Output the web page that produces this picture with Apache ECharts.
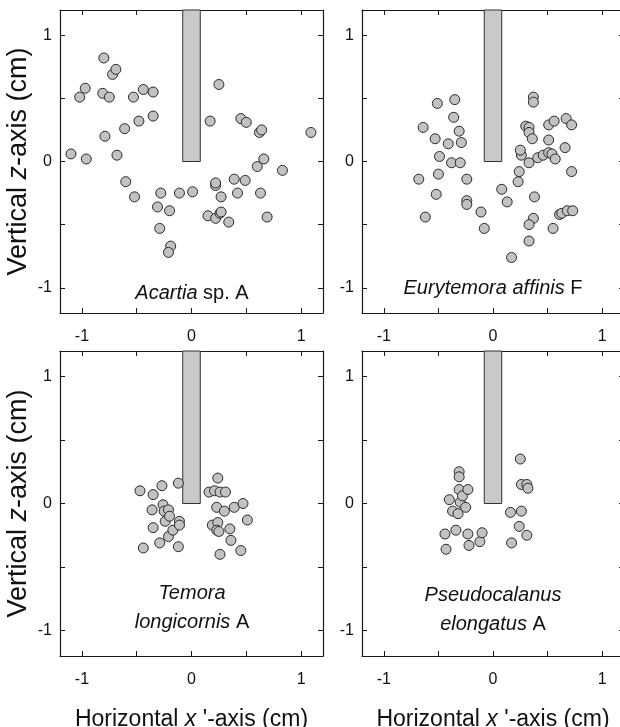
<!DOCTYPE html>
<html>
<head>
<meta charset="utf-8">
<script src="https://cdn.jsdelivr.net/npm/echarts@6/dist/echarts.min.js"></script>
<style>
html,body{margin:0;padding:0;background:#fff;}
#chart{width:620px;height:727px;}
</style>
</head>
<body>
<div id="chart"></div>
<script>
// ---------- data (cm) ----------
const tickValues = [-1, -0.5, 0, 0.5, 1];
const tickLabels = [-1, 0, 1];
const axisMin = -1.2, axisMax = 1.2;
const stalkX = [-0.08, 0.08];
const stalkZ = [0, 1.2];

const acartiaX = [-1.10,-1.02,-0.97,-0.96,-0.80,-0.81,-0.79,-0.75,-0.72,-0.69,-0.68,-0.61,-0.60,-0.53,-0.52,-0.48,-0.44,-0.35,-0.35,-0.31,-0.28,-0.29,-0.20,-0.19,-0.21,-0.11,0.01,0.17,0.15,0.22,0.22,0.22,0.25,0.27,0.26,0.27,0.34,0.39,0.42,0.45,0.50,0.49,0.60,0.66,0.62,0.64,0.63,0.69,0.83,1.09];
const acartiaZ = [0.06,0.51,0.58,0.02,0.82,0.54,0.20,0.51,0.69,0.73,0.05,0.26,-0.16,0.51,-0.28,0.32,0.57,0.55,0.36,-0.36,-0.25,-0.53,-0.39,-0.67,-0.72,-0.25,-0.24,0.32,-0.43,-0.19,-0.17,-0.45,0.61,-0.28,-0.41,-0.40,-0.48,-0.14,-0.25,0.34,0.31,-0.15,-0.04,0.02,0.23,0.25,-0.25,-0.44,-0.07,0.23];

const euryX = [-0.68,-0.64,-0.62,-0.53,-0.51,-0.49,-0.50,-0.52,-0.41,-0.36,-0.38,-0.35,-0.31,-0.29,-0.30,-0.24,-0.24,-0.24,-0.11,-0.08,0.08,0.13,0.17,0.23,0.24,0.26,0.25,0.30,0.33,0.33,0.36,0.33,0.37,0.37,0.38,0.37,0.33,0.33,0.41,0.46,0.51,0.54,0.51,0.51,0.56,0.57,0.55,0.61,0.63,0.68,0.73,0.66,0.67,0.72,0.72];
const euryZ = [-0.14,0.27,-0.44,0.18,0.46,0.04,-0.10,-0.26,0.14,0.35,-0.01,0.49,0.24,0.15,-0.01,-0.14,-0.31,-0.34,-0.40,-0.53,-0.22,-0.32,-0.76,-0.16,-0.08,0.05,0.09,0.28,0.27,0.23,0.18,-0.01,0.51,0.47,-0.28,-0.45,-0.50,-0.63,0.03,0.05,0.07,0.06,0.17,0.29,0.32,0.02,-0.53,-0.42,-0.41,-0.39,-0.39,0.11,0.34,0.29,-0.08];

const temoraX = [-0.47,-0.44,-0.35,-0.36,-0.35,-0.27,-0.29,-0.26,-0.25,-0.24,-0.21,-0.20,-0.21,-0.17,-0.12,-0.11,-0.11,-0.12,0.16,0.21,0.24,0.26,0.31,0.23,0.30,0.19,0.24,0.23,0.25,0.26,0.35,0.36,0.39,0.47,0.51,0.45];
const temoraZ = [0.10,-0.35,0.07,-0.05,-0.19,0.14,-0.31,-0.01,-0.06,-0.14,-0.05,-0.10,-0.26,-0.21,0.16,-0.14,-0.17,-0.34,0.09,0.10,0.20,0.09,0.09,-0.03,-0.06,-0.17,-0.15,-0.21,-0.22,-0.40,-0.20,-0.29,-0.03,0.00,-0.13,-0.37];

const pseudoX = [-0.40,-0.44,-0.43,-0.37,-0.34,-0.31,-0.31,-0.31,-0.32,-0.30,-0.28,-0.25,-0.23,-0.23,-0.22,-0.12,-0.10,0.16,0.17,0.24,0.26,0.31,0.25,0.26,0.31,0.32];
const pseudoZ = [0.03,-0.24,-0.36,-0.06,-0.21,0.25,0.21,0.11,-0.08,0.01,0.06,-0.03,0.11,-0.24,-0.33,-0.30,-0.23,-0.07,-0.31,-0.18,-0.06,-0.25,0.35,0.15,0.15,0.12];

// ---------- layout ----------
const FONT = "'Liberation Sans', Arial, Helvetica, sans-serif";
const grids = [
  {left: 60,  top: 10,  width: 263, height: 303},
  {left: 362, top: 10,  width: 262, height: 303},
  {left: 60,  top: 351, width: 263, height: 305},
  {left: 362, top: 351, width: 262, height: 305}
];
const panelData = [[acartiaX, acartiaZ],[euryX, euryZ],[temoraX, temoraZ],[pseudoX, pseudoZ]];

function richSet(size){
  return {
    n: {fontSize: size, fontFamily: FONT, fontWeight: 'normal', color: '#111'},
    i: {fontSize: size, fontFamily: FONT, fontWeight: 'normal', fontStyle: 'italic', color: '#111'}
  };
}

function tickCfg(){
  return {show: true, inside: true, length: 5, customValues: tickValues,
          lineStyle: {color: '#1a1a1a', width: 1}};
}
function labelCfg(show, margin){
  return {show: show, customValues: tickLabels, margin: margin,
          fontSize: 16, fontFamily: FONT, color: '#111'};
}
function lineCfg(){
  return {show: true, onZero: false, lineStyle: {color: '#1a1a1a', width: 1.2}};
}

const xAxes = [], yAxes = [], series = [];
grids.forEach((g, i) => {
  const bottomRow = i >= 2;
  const leftCol = (i % 2) === 0;
  const xb = {
    type: 'value', gridIndex: i, position: 'bottom', min: axisMin, max: axisMax,
    axisLine: lineCfg(), splitLine: {show: false},
    axisTick: tickCfg(), axisLabel: labelCfg(true, 16)
  };
  if (bottomRow) {
    xb.name = '{n|Horizontal }{i|x}{n| \'-axis (cm)}';
    xb.nameLocation = 'middle';
    xb.nameGap = 52;
    xb.nameTextStyle = {rich: richSet(23)};
  }
  xAxes.push(xb);
  xAxes.push({
    type: 'value', gridIndex: i, position: 'top', min: axisMin, max: axisMax,
    axisLine: lineCfg(), splitLine: {show: false},
    axisTick: tickCfg(), axisLabel: {show: false}
  });
  const yl = {
    type: 'value', gridIndex: i, position: 'left', min: axisMin, max: axisMax,
    axisLine: lineCfg(), splitLine: {show: false},
    axisTick: tickCfg(), axisLabel: labelCfg(true, 8)
  };
  if (leftCol) {
    yl.name = '{n|Vertical }{i|z}{n|-axis (cm)}';
    yl.nameLocation = 'middle';
    yl.nameGap = 28;
    yl.nameRotate = 90;
    yl.nameTextStyle = {rich: richSet(27)};
  }
  yAxes.push(yl);
  yAxes.push({
    type: 'value', gridIndex: i, position: 'right', min: axisMin, max: axisMax,
    axisLine: lineCfg(), splitLine: {show: false},
    axisTick: tickCfg(), axisLabel: {show: false}
  });

  const [xs, zs] = panelData[i];
  series.push({
    type: 'scatter',
    xAxisIndex: i * 2, yAxisIndex: i * 2,
    symbol: 'circle', symbolSize: 10,
    itemStyle: {color: '#c2c2c2', borderColor: '#2a2a2a', borderWidth: 1, opacity: 1},
    data: xs.map((x, k) => [x, zs[k]]),
    silent: true,
    markArea: {
      silent: true,
      itemStyle: {color: '#c9c9c9', borderColor: '#333', borderWidth: 1},
      data: [[{xAxis: stalkX[0], yAxis: stalkZ[1]}, {xAxis: stalkX[1], yAxis: stalkZ[0]}]]
    }
  });
});

const labRich = richSet(20);
labRich.n.lineHeight = 29;
labRich.i.lineHeight = 29;
const titles = [
  {text: '{i|Acartia}{n| sp. A}', left: 192, top: 279},
  {text: '{i|Eurytemora affinis}{n| F}', left: 493, top: 274},
  {text: '{i|Temora}\n{i|longicornis}{n| A}', left: 192, top: 579},
  {text: '{i|Pseudocalanus}\n{i|elongatus}{n| A}', left: 493, top: 581}
].map(t => ({text: t.text, left: t.left, top: t.top, textAlign: 'center', padding: 0,
             textStyle: {rich: labRich, fontSize: 20, fontWeight: 'normal', fontFamily: FONT}}));

const chart = echarts.init(document.getElementById('chart'), null, {renderer: 'canvas'});
chart.setOption({
  animation: false,
  backgroundColor: '#fff',
  title: titles,
  grid: grids.map(g => Object.assign({show: false, containLabel: false, outerBoundsMode: 'none'}, g)),
  xAxis: xAxes,
  yAxis: yAxes,
  series: series
});
</script>
</body>
</html>
